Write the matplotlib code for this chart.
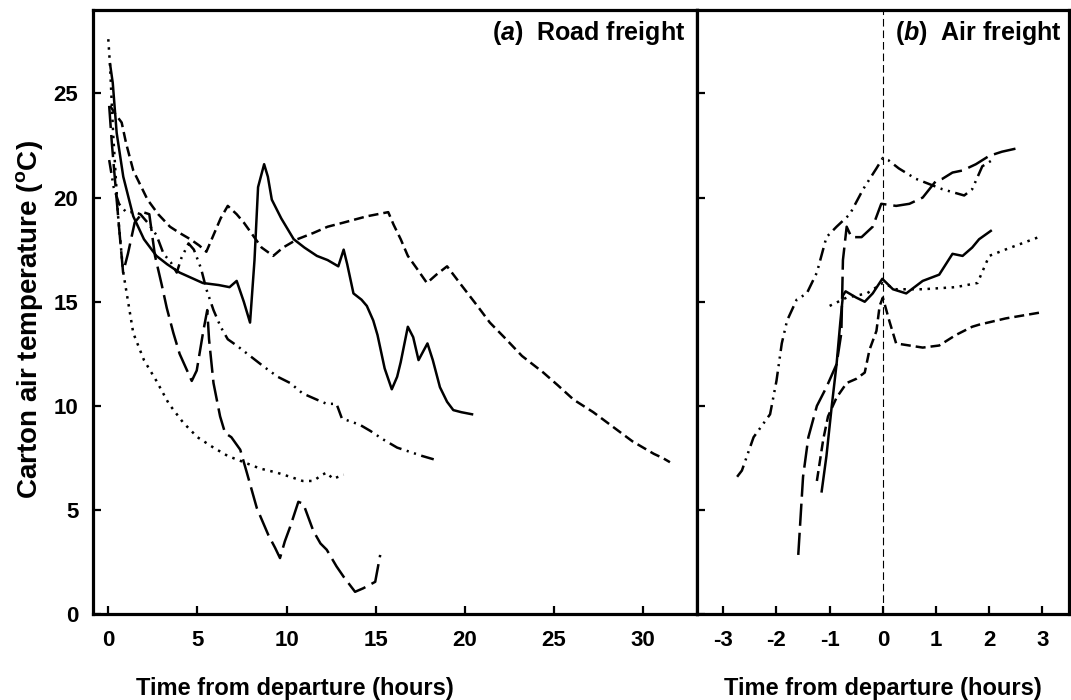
import numpy as np
import matplotlib
matplotlib.use('Agg')
import matplotlib.pyplot as plt

plt.rcParams['font.family'] = ['Liberation Sans', 'DejaVu Sans']
plt.rcParams['font.weight'] = 'bold'
plt.rcParams['mathtext.fontset'] = 'custom'
plt.rcParams['mathtext.rm'] = 'Liberation Sans:bold'
plt.rcParams['mathtext.bf'] = 'Liberation Sans:bold'
plt.rcParams['mathtext.it'] = 'Liberation Sans:bold:italic'
plt.rcParams['lines.scale_dashes'] = False
plt.rcParams['axes.unicode_minus'] = False

# ---- road freight (hours from departure, carton air temperature degC)
road_solid_t = [0.1, 0.25, 0.47, 0.84, 1.4, 2.0, 2.7, 3.3, 4.0, 5.3, 6.2, 6.8, 7.2, 7.6, 7.95,
                8.2, 8.4, 8.74, 8.95, 9.17, 9.7, 10.4, 11.0, 11.7, 12.3, 12.9, 13.2, 13.4,
                13.75, 14.2, 14.5, 14.86, 15.1, 15.5, 15.9, 16.2, 16.4, 16.8, 17.1, 17.4,
                17.9, 18.2, 18.6, 19.0, 19.35, 19.8, 20.4]
road_solid_T = [26.4, 25.5, 23.1, 21.0, 19.1, 18.0, 17.2, 16.8, 16.4, 15.9, 15.8, 15.7, 16.0,
                15.0, 14.0, 17.0, 20.5, 21.6, 21.0, 19.9, 19.0, 18.0, 17.6, 17.2, 17.0, 16.7,
                17.5, 16.8, 15.4, 15.1, 14.8, 14.1, 13.4, 11.8, 10.8, 11.4, 12.1, 13.8, 13.3,
                12.2, 13.0, 12.2, 10.9, 10.2, 9.8, 9.7, 9.6]

road_dash_t = [0.1, 0.4, 0.75, 1.0, 1.4, 2.2, 2.8, 3.46, 4.0, 4.6, 5.1, 5.5, 5.9, 6.3, 6.7,
               7.2, 7.6, 8.1, 8.6, 9.25, 9.8, 10.6, 11.5, 12.3, 13.2, 14.5, 15.7, 16.0, 16.4,
               16.8, 17.3, 17.87, 18.4, 19.0, 19.8, 20.7, 21.4, 22.2, 23.2, 24.4, 25.2, 26.1,
               27.2, 28.3, 29.4, 30.6, 31.1, 31.5]
road_dash_T = [24.4, 24.0, 23.6, 22.6, 21.3, 19.9, 19.2, 18.6, 18.3, 18.0, 17.7, 17.4, 18.2,
               19.0, 19.6, 19.2, 18.8, 18.2, 17.6, 17.2, 17.6, 18.0, 18.3, 18.6, 18.8, 19.1,
               19.3, 18.7, 18.0, 17.2, 16.6, 15.9, 16.3, 16.7, 15.8, 14.8, 14.0, 13.3, 12.4,
               11.6, 11.0, 10.3, 9.7, 9.0, 8.3, 7.7, 7.5, 7.3]

road_dot_t = [0.0, 0.1, 0.27, 0.55, 0.84, 1.4, 2.0, 2.7, 3.4, 4.2, 5.0, 5.9, 6.7, 7.6, 8.5,
              9.45, 10.2, 10.9, 11.5, 12.0, 12.25, 12.6, 13.2]
road_dot_T = [27.6, 26.3, 23.1, 19.1, 16.4, 13.5, 12.2, 11.2, 10.1, 9.2, 8.5, 8.0, 7.6, 7.3,
              7.0, 6.8, 6.6, 6.4, 6.4, 6.7, 6.8, 6.5, 6.7]

road_dd_t = [0.05, 0.3, 0.6, 1.0, 1.5, 1.8, 2.2, 2.7, 3.1, 3.5, 3.84, 4.1, 4.5, 4.8, 5.2, 5.5,
             5.9, 6.3, 6.7, 7.2, 7.95, 8.7, 9.5, 10.2, 10.9, 11.7, 12.25, 12.8, 13.1, 14.1,
             14.7, 15.4, 16.2, 16.9, 17.6, 18.4]
road_dd_T = [21.8, 20.5, 19.7, 19.3, 19.3, 19.2, 18.8, 18.2, 17.3, 16.9, 16.4, 17.1, 17.8,
             17.5, 16.6, 15.6, 14.6, 13.8, 13.2, 12.9, 12.4, 11.9, 11.4, 11.1, 10.6, 10.3,
             10.1, 10.1, 9.4, 9.1, 8.8, 8.4, 8.0, 7.8, 7.6, 7.4]

road_long_t = [0.05, 0.2, 0.4, 0.6, 0.83, 1.1, 1.48, 1.95, 2.3, 2.62, 3.0, 3.28, 3.65, 4.0,
               4.68, 4.96, 5.33, 5.55, 5.65, 5.9, 6.27, 6.55, 6.9, 7.4, 7.77, 8.33, 8.98,
               9.35, 9.63, 9.9, 10.2, 10.66, 10.94, 11.5, 11.9, 12.25, 12.8, 13.2, 13.84,
               14.3, 14.97, 15.25]
road_long_T = [24.4, 22.6, 20.6, 18.6, 16.4, 17.3, 18.8, 19.3, 19.2, 17.2, 15.8, 14.7, 13.5,
               12.5, 11.2, 11.7, 13.6, 14.6, 13.2, 11.1, 9.5, 8.7, 8.5, 7.9, 6.8, 5.1, 3.8,
               3.2, 2.7, 3.5, 4.2, 5.4, 5.3, 4.0, 3.4, 3.1, 2.3, 1.8, 1.08, 1.25, 1.56, 2.85]

# ---- air freight
air_dd_t = [-2.74, -2.65, -2.43, -2.12, -2.0, -1.9, -1.8, -1.62, -1.43, -1.24, -1.06, -0.87,
            -0.62, -0.37, -0.12, 0.0, 0.1, 0.3, 0.62, 1.12, 1.53, 1.68, 1.87, 2.06]
air_dd_T = [6.6, 6.9, 8.5, 9.6, 11.2, 13.0, 14.1, 15.1, 15.4, 16.4, 18.1, 18.6, 19.2, 20.4,
            21.4, 21.9, 21.8, 21.4, 20.9, 20.4, 20.1, 20.4, 21.5, 21.8]

air_long_t = [-1.59, -1.5, -1.4, -1.24, -1.06, -0.87, -0.78, -0.75, -0.68, -0.59, -0.4, -0.19,
              -0.03, 0.25, 0.5, 0.75, 1.0, 1.12, 1.31, 1.5, 1.75, 2.0, 2.24, 2.59]
air_long_T = [2.85, 6.6, 8.5, 10.0, 10.9, 12.0, 13.5, 17.0, 18.6, 18.1, 18.1, 18.6, 19.7,
              19.6, 19.7, 20.0, 20.8, 20.9, 21.2, 21.3, 21.6, 22.0, 22.2, 22.4]

air_solid_t = [-1.15, -1.06, -0.96, -0.87, -0.8, -0.75, -0.7, -0.5, -0.34, -0.19, -0.01, 0.19,
               0.44, 0.75, 1.06, 1.31, 1.5, 1.68, 1.81, 2.03]
air_solid_T = [5.9, 7.6, 10.0, 12.0, 14.0, 15.3, 15.5, 15.2, 15.0, 15.4, 16.1, 15.6, 15.4,
               16.0, 16.3, 17.3, 17.2, 17.6, 18.0, 18.4]

air_dot_t = [-1.0, -0.68, -0.3, 0.0, 0.25, 0.75, 1.37, 1.78, 2.0, 2.3, 2.93]
air_dot_T = [14.8, 15.2, 15.4, 15.9, 15.6, 15.6, 15.7, 15.9, 17.2, 17.5, 18.1]

air_dash_t = [-1.24, -1.12, -1.03, -0.87, -0.68, -0.5, -0.34, -0.25, -0.12, -0.06, 0.0, 0.12,
              0.25, 0.5, 0.75, 1.06, 1.37, 1.68, 1.81, 2.31, 3.0]
air_dash_T = [6.4, 8.4, 9.5, 10.4, 11.1, 11.3, 11.6, 12.7, 13.6, 14.8, 15.2, 14.1, 13.0,
              12.9, 12.8, 12.9, 13.4, 13.8, 13.9, 14.2, 14.5]

road_ticks = [0, 5, 10, 15, 20, 25, 30]
air_ticks = [-3, -2, -1, 0, 1, 2, 3]
temp_ticks = [0, 5, 10, 15, 20, 25]

SHORT = (0, (7.2, 3.6))
LONG = (0, (16, 5))
DOT = (0, (1.8, 4.0))
DDOT = (0, (9.4, 4.0, 1.5, 4.0, 1.5, 4.0))
LW = 1.8

fig = plt.figure(figsize=(10.71, 7.0), dpi=100)
ax1 = fig.add_axes([0.0868, 0.1224, 0.5637, 0.8633])
ax2 = fig.add_axes([0.6505, 0.1224, 0.3476, 0.8633], sharey=ax1)

ax1.plot(road_solid_t, road_solid_T, color='black', lw=LW, linestyle='-')
ax1.plot(road_dash_t, road_dash_T, color='black', lw=LW, linestyle=SHORT)
ax1.plot(road_dot_t, road_dot_T, color='black', lw=LW, linestyle=DOT)
ax1.plot(road_dd_t, road_dd_T, color='black', lw=LW, linestyle=DDOT)
ax1.plot(road_long_t, road_long_T, color='black', lw=LW, linestyle=LONG)

ax2.axvline(0, color='black', lw=0.8, linestyle=(0, (5.5, 2.8)))
ax2.plot(air_dd_t, air_dd_T, color='black', lw=LW, linestyle=DDOT)
ax2.plot(air_long_t, air_long_T, color='black', lw=LW, linestyle=LONG)
ax2.plot(air_solid_t, air_solid_T, color='black', lw=LW, linestyle='-')
ax2.plot(air_dot_t, air_dot_T, color='black', lw=LW, linestyle=DOT)
ax2.plot(air_dash_t, air_dash_T, color='black', lw=LW, linestyle=SHORT)

ax1.set_xlim(-0.86, 33.0)
ax2.set_xlim(-3.5, 3.5)
ax1.set_ylim(0, 29)
ax1.set_xticks(road_ticks)
ax2.set_xticks(air_ticks)
ax1.set_yticks(temp_ticks)

for ax in (ax1, ax2):
    for s in ax.spines.values():
        s.set_linewidth(2.3)
    ax.tick_params(direction='in', length=6, width=1.6, labelsize=16,
                   top=False, right=False)
    ax.tick_params(axis='x', pad=11)
    ax.tick_params(axis='y', pad=10.5)
    for lab in ax.get_xticklabels() + ax.get_yticklabels():
        lab.set_fontweight('bold')
ax2.tick_params(labelleft=False)

ax1.set_ylabel('Carton air temperature ($^{\\rm o}$C)', fontsize=20, fontweight='bold')
ax1.yaxis.set_label_coords(-0.08, 0.487)
ax1.set_xlabel('Time from departure (hours)', fontsize=17, fontweight='bold')
ax1.xaxis.set_label_coords(0.335, -0.103)
ax2.set_xlabel('Time from departure (hours)', fontsize=17, fontweight='bold')
ax2.xaxis.set_label_coords(0.5, -0.103)

ax1.text(0.981, 0.962, '($\\mathit{a}$)  Road freight', transform=ax1.transAxes,
         ha='right', va='center', fontsize=18, fontweight='bold')
ax2.text(0.981, 0.962, '($\\mathit{b}$)  Air freight', transform=ax2.transAxes,
         ha='right', va='center', fontsize=18, fontweight='bold')

fig.savefig('out.png', dpi=100)
